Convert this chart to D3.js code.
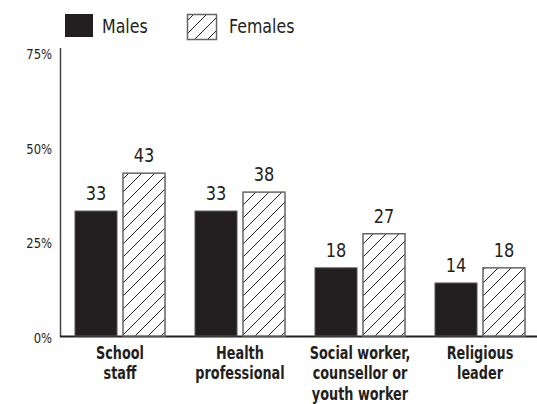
<!DOCTYPE html>
<html>
<head>
<meta charset="utf-8">
<script src="https://cdn.jsdelivr.net/npm/d3@7"></script>
<style>
  html, body { margin: 0; padding: 0; background: #fff; }
  svg { display: block; }
  text { font-family: "Liberation Sans Narrow", "DejaVu Sans Condensed", "Roboto", sans-serif; fill: #231f20; }
</style>
</head>
<body>
<svg id="chart" width="537" height="404"></svg>
<script>
// Categories (each label split into lines) and values in percent
const categories = [
  ["School", "staff"],
  ["Health", "professional"],
  ["Social worker,", "counsellor or", "youth worker"],
  ["Religious", "leader"]
];
const males = [33, 33, 18, 14];
const females = [43, 38, 27, 18];
const seriesNames = ["Males", "Females"];
const yTicks = [0, 25, 50, 75];

const svg = d3.select("#chart");
const ink = "#231f20";

const x = d3.scaleBand().domain(d3.range(categories.length)).range([60, 540]).padding(0);
const y = d3.scaleLinear().domain([0, 75]).range([336, 52]);
const barW = 42, barGap = 6;

// Narrowed text: a group positioned at (tx, ty) and squeezed horizontally
function narrowText(sel, tx, ty, sx) {
  return sel.append("g")
    .attr("transform", `translate(${tx},${ty}) scale(${sx},1)`)
    .append("text");
}

// Diagonal hatch for the female series
const defs = svg.append("defs");
const pat = defs.append("pattern")
  .attr("id", "hatch")
  .attr("patternUnits", "userSpaceOnUse")
  .attr("width", 13).attr("height", 13);
pat.append("rect").attr("width", 13).attr("height", 13).attr("fill", "#fff");
pat.append("path")
  .attr("d", "M-3,3 L3,-3 M0,13 L13,0 M10,16 L16,10")
  .attr("stroke", ink).attr("stroke-width", 1);

// Y axis line and percent labels
svg.append("line")
  .attr("x1", 60.5).attr("x2", 60.5)
  .attr("y1", 48).attr("y2", 337)
  .attr("stroke", "#444").attr("stroke-width", 1.5);

yTicks.forEach(t => {
  narrowText(svg, 52, y(t) + 7, 0.92)
    .attr("text-anchor", "end")
    .attr("font-size", 14)
    .text(t + "%");
});

// Baseline
svg.append("line")
  .attr("x1", 60).attr("x2", 537)
  .attr("y1", 336.5).attr("y2", 336.5)
  .attr("stroke", ink).attr("stroke-width", 2);

const groups = svg.selectAll(".grp").data(categories).join("g")
  .attr("class", "grp")
  .attr("transform", (d, i) => `translate(${x(i) + x.bandwidth() / 2},0)`);

// Male bars (solid)
groups.append("rect")
  .attr("x", -barGap / 2 - barW)
  .attr("y", (d, i) => y(males[i]))
  .attr("width", barW)
  .attr("height", (d, i) => y(0) - y(males[i]))
  .attr("fill", ink)
  .attr("stroke", "#555").attr("stroke-width", 1);

// Female bars (hatched)
groups.append("rect")
  .attr("x", barGap / 2)
  .attr("y", (d, i) => y(females[i]))
  .attr("width", barW)
  .attr("height", (d, i) => y(0) - y(females[i]))
  .attr("fill", "url(#hatch)")
  .attr("stroke", "#666").attr("stroke-width", 1.5);

// Value labels and category labels
groups.each(function (d, i) {
  const g = d3.select(this);
  narrowText(g, -barGap / 2 - barW / 2, y(males[i]) - 11, 0.9)
    .attr("text-anchor", "middle")
    .attr("font-size", 20)
    .text(males[i]);
  narrowText(g, barGap / 2 + barW / 2, y(females[i]) - 11, 0.9)
    .attr("text-anchor", "middle")
    .attr("font-size", 20)
    .text(females[i]);
  narrowText(g, 0, 0, 0.84)
    .attr("text-anchor", "middle")
    .attr("font-size", 17)
    .attr("font-weight", "bold")
    .selectAll("tspan").data(d).join("tspan")
    .attr("x", 0)
    .attr("y", (s, j) => 359 + j * 20.5)
    .text(s => s);
});

// Legend
const legend = svg.append("g");
legend.append("rect")
  .attr("x", 65).attr("y", 14).attr("width", 28).attr("height", 23)
  .attr("fill", ink);
narrowText(legend, 102, 33, 0.88)
  .attr("font-size", 20)
  .text(seriesNames[0]);
legend.append("rect")
  .attr("x", 187.5).attr("y", 14.5).attr("width", 29).attr("height", 25)
  .attr("fill", "url(#hatch)")
  .attr("stroke", "#666").attr("stroke-width", 1.5);
narrowText(legend, 229, 33, 0.88)
  .attr("font-size", 20)
  .text(seriesNames[1]);
</script>
</body>
</html>
